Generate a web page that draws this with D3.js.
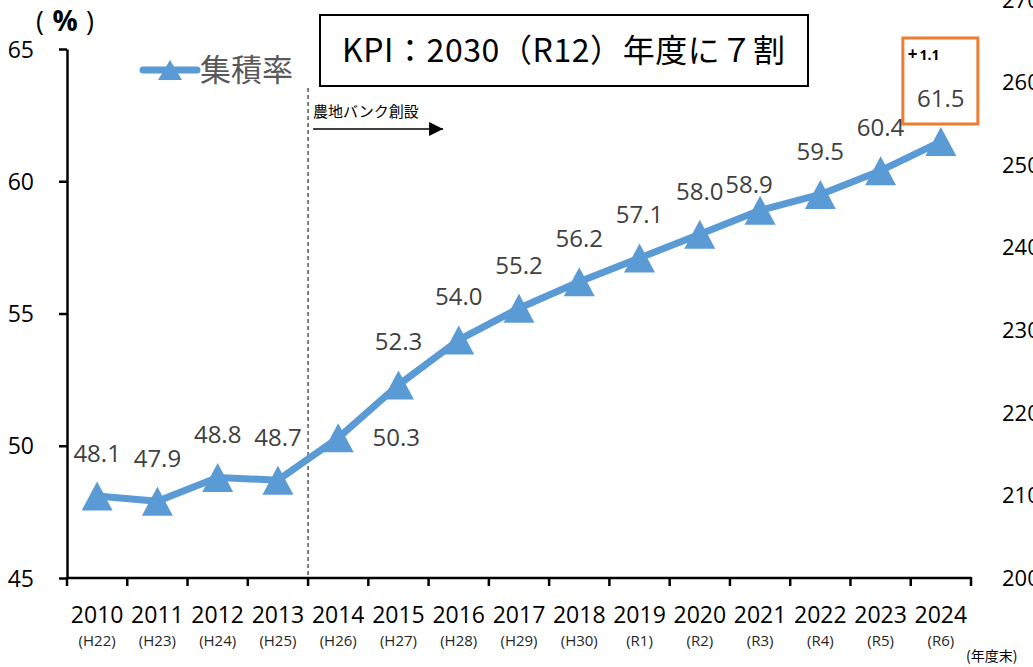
<!DOCTYPE html>
<html>
<head>
<meta charset="utf-8">
<script src="https://cdn.jsdelivr.net/npm/d3@7"></script>
<style>
  html, body { margin: 0; padding: 0; background: #fff; }
  svg { display: block; }
  text { font-family: "Open Sans", "Noto Sans CJK JP", sans-serif; }
  .jp { font-family: "Noto Sans CJK JP", sans-serif; }
</style>
</head>
<body>
<svg id="chart" width="1033" height="667"></svg>
<script>
// ---- data ----
const years = ["2010","2011","2012","2013","2014","2015","2016","2017","2018","2019","2020","2021","2022","2023","2024"];
const eraLabels = ["(H22)","(H23)","(H24)","(H25)","(H26)","(H27)","(H28)","(H29)","(H30)","(R1)","(R2)","(R3)","(R4)","(R5)","(R6)"];
const rates = [48.1, 47.9, 48.8, 48.7, 50.3, 52.3, 54.0, 55.2, 56.2, 57.1, 58.0, 58.9, 59.5, 60.4, 61.5];
const leftTicks = [45, 50, 55, 60, 65];
const rightTicks = [200, 210, 220, 230, 240, 250, 260, 270];
const seriesName = "集積率";
const kpiText = "KPI：2030（R12）年度に７割";
const eventText = "農地バンク創設";
const eventYear = "2014";
const diffText = "1.1";

(function () {
// ---- layout ----
const svg = d3.select("#chart");
const pLeft = 67, pRight = 971, pTop = 49, pBottom = 578;
const blue = "#5B9BD5";
const orange = "#ED7D31";
const labelGray = "#404040";

const x = d3.scaleBand().domain(years).range([pLeft, pRight]).padding(0);
const y = d3.scaleLinear().domain([45, 65]).range([pBottom, pTop]);
const yR = d3.scaleLinear().domain([200, 270]).range([pBottom, 0]);
const cx = d => x(d) + x.bandwidth() / 2;

// KPI box
svg.append("rect").attr("x", 320).attr("y", 15).attr("width", 488).attr("height", 71)
  .attr("fill", "#fff").attr("stroke", "#000").attr("stroke-width", 2);
svg.append("text").attr("class", "jp").attr("x", 342).attr("y", 62)
  .attr("font-size", 32).attr("fill", "#000")
  .attr("textLength", 443).attr("lengthAdjust", "spacing").text(kpiText);

// (%) unit label
const unit = svg.append("g").attr("fill", "#000");
unit.append("text").attr("x", 40).attr("y", 31).attr("text-anchor", "middle")
  .attr("font-size", 27).text("(");
unit.append("text").attr("x", 65).attr("y", 31).attr("text-anchor", "middle")
  .attr("font-size", 28).attr("font-weight", "bold").text("%");
unit.append("text").attr("x", 90).attr("y", 31).attr("text-anchor", "middle")
  .attr("font-size", 27).text(")");

// left axis
const yAxis = d3.axisLeft(y).tickValues(leftTicks).tickSize(8).tickSizeOuter(0).tickPadding(25);
const gy = svg.append("g").attr("transform", `translate(${pLeft},0)`).call(yAxis);
gy.select(".domain").attr("stroke", "#000").attr("stroke-width", 2.5);
gy.selectAll(".tick line").attr("stroke", "#000").attr("stroke-width", 2.5);
gy.selectAll(".tick text").attr("font-size", 23).attr("fill", "#000")
  .attr("font-family", "'Open Sans', sans-serif").attr("dy", "0.35em");

// right axis labels (text only, running off the right edge as in the source)
svg.append("g").selectAll("text").data(rightTicks).join("text")
  .attr("x", 1002).attr("y", d => yR(d)).attr("dy", "0.35em")
  .attr("font-size", 22).attr("fill", "#000")
  .attr("font-family", "'Liberation Sans', sans-serif")
  .text(d => d);

// x axis
svg.append("line").attr("x1", pLeft).attr("x2", pRight).attr("y1", pBottom).attr("y2", pBottom)
  .attr("stroke", "#000").attr("stroke-width", 2.5);
const boundaries = years.map(d => x(d)).concat([pRight]);
svg.append("g").selectAll("line").data(boundaries).join("line")
  .attr("x1", d => d).attr("x2", d => d).attr("y1", pBottom - 1).attr("y2", pBottom + 8)
  .attr("stroke", "#000").attr("stroke-width", 2.5);
svg.append("g").selectAll("text").data(years).join("text")
  .attr("x", d => cx(d)).attr("y", 623).attr("text-anchor", "middle")
  .attr("font-size", 23).attr("fill", "#000").text(d => d);
svg.append("g").selectAll("text").data(eraLabels).join("text")
  .attr("x", (d, i) => cx(years[i])).attr("y", 646).attr("text-anchor", "middle")
  .attr("font-size", 15).attr("fill", "#262626").text(d => d);
svg.append("text").attr("class", "jp").attr("x", 966).attr("y", 661)
  .attr("font-size", 14).attr("fill", "#000").text("(年度末)");

// event dashed line + arrow
const ex = x(eventYear);
svg.append("line").attr("x1", ex).attr("x2", ex).attr("y1", 88).attr("y2", pBottom)
  .attr("stroke", "#000").attr("stroke-width", 1).attr("stroke-dasharray", "4,3");
svg.append("text").attr("class", "jp").attr("x", ex + 5).attr("y", 117)
  .attr("font-size", 15).attr("fill", "#000").text(eventText);
svg.append("defs").append("marker").attr("id", "arr").attr("viewBox", "0 0 10 10")
  .attr("refX", 10).attr("refY", 5).attr("markerWidth", 16).attr("markerHeight", 14)
  .attr("markerUnits", "userSpaceOnUse").attr("orient", "auto")
  .append("path").attr("d", "M0,0L10,5L0,10Z").attr("fill", "#000");
svg.append("line").attr("x1", ex + 5).attr("x2", ex + 135).attr("y1", 129).attr("y2", 129)
  .attr("stroke", "#000").attr("stroke-width", 1.5).attr("marker-end", "url(#arr)");

// series line
const line = d3.line().x((d, i) => cx(years[i])).y(d => y(d));
svg.append("path").datum(rates).attr("d", line).attr("fill", "none")
  .attr("stroke", blue).attr("stroke-width", 7).attr("stroke-linejoin", "round");

// triangles
const tw = 31, th = 29;
const tri = `M0,${-th/2}L${tw/2},${th/2}L${-tw/2},${th/2}Z`;
svg.append("g").selectAll("path").data(rates).join("path")
  .attr("transform", (d, i) => `translate(${cx(years[i])},${y(d)})`)
  .attr("d", tri).attr("fill", blue);

// orange highlight box around last label
const lastI = rates.length - 1;
const lx = cx(years[lastI]);
svg.append("rect").attr("x", lx - 38).attr("y", 38).attr("width", 75).attr("height", 86)
  .attr("fill", "#fff").attr("stroke", orange).attr("stroke-width", 3);
svg.append("text").attr("x", lx - 33).attr("y", 60).attr("font-size", 14)
  .attr("font-weight", "bold").attr("fill", "#000")
  .html(`<tspan font-size="17">+</tspan><tspan dx="2">${diffText}</tspan>`);

// data labels
svg.append("g").selectAll("text").data(rates).join("text")
  .attr("x", (d, i) => {
    const px = cx(years[i]);
    if (years[i] === eventYear) return px + 58;
    if (i === 11) return px - 11;
    return px;
  })
  .attr("y", (d, i) => {
    const py = y(d);
    if (years[i] === eventYear) return py + 8.5;
    if (i === 11) return py - 26 + 8.5;
    return py - 43 + 8.5;
  })
  .attr("text-anchor", "middle").attr("font-size", 24).attr("fill", labelGray)
  .text(d => d.toFixed(1));

// legend
svg.append("line").attr("x1", 143).attr("x2", 197).attr("y1", 70).attr("y2", 70)
  .attr("stroke", blue).attr("stroke-width", 7).attr("stroke-linecap", "round");
svg.append("path").attr("transform", "translate(170,70)")
  .attr("d", "M0,-10L12,10L-12,10Z").attr("fill", blue);
svg.append("text").attr("class", "jp").attr("x", 200).attr("y", 81)
  .attr("font-size", 31).attr("fill", "#595959").text(seriesName);
})();
</script>
</body>
</html>
